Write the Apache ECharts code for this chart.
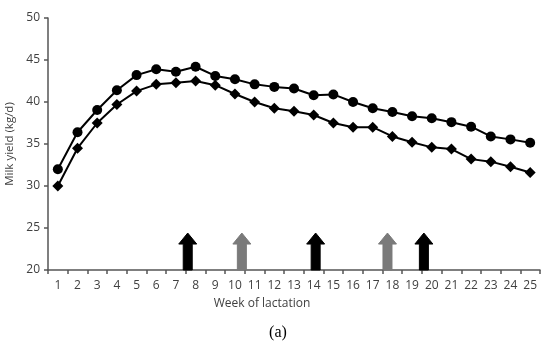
<!DOCTYPE html>
<html><head><meta charset="utf-8">
<script src="https://cdn.jsdelivr.net/npm/echarts@6/dist/echarts.min.js"></script>
<style>html,body{margin:0;padding:0;background:#fff}#c{width:550px;height:350px}</style>
</head><body><div id="c"></div>
<script>
const weeks = ['1','2','3','4','5','6','7','8','9','10','11','12','13','14','15','16','17','18','19','20','21','22','23','24','25'];
const upperSeries = [32.0,36.4,39.05,41.4,43.2,43.9,43.6,44.2,43.1,42.7,42.1,41.8,41.6,40.8,40.9,40.0,39.25,38.8,38.3,38.06,37.6,37.06,35.9,35.55,35.15];
const lowerSeries = [30.0,34.5,37.5,39.7,41.3,42.1,42.3,42.5,42.0,40.95,40.0,39.25,38.9,38.45,37.5,37.0,37.0,35.9,35.2,34.6,34.4,33.2,32.9,32.3,31.6];
const arrowWeeks = [7.6,10.35,14.1,17.75,19.6];
const arrowTop = [24.4,24.4,24.4,24.4,24.4];
const arrowKind = ['black','gray','black','gray','black'];
const yTicks = [20,25,30,35,40,45,50];

const chart = echarts.init(document.getElementById('c'));
const axisCol = '#555';
const labCol = '#404040';
chart.setOption({
  animation:false,
  grid:{left:48,right:10,top:18,bottom:80,containLabel:false,outerBoundsMode:'none'},
  xAxis:[{
    type:'category', data:weeks, boundaryGap:true,
    axisLine:{lineStyle:{color:axisCol,width:1.5}},
    axisTick:{show:true,alignWithLabel:false,length:4,lineStyle:{color:axisCol,width:1.5}},
    axisLabel:{color:labCol,fontSize:12,fontFamily:'Open Sans',margin:10},
    splitLine:{show:false}
  },{
    type:'value', min:0.5, max:25.5, show:false
  }],
  yAxis:{
    type:'value', min:20, max:50, interval:5,
    name:'Milk yield (kg/d)', nameLocation:'middle', nameGap:28, nameRotate:90,
    nameTextStyle:{color:labCol,fontSize:11.5,fontFamily:'Open Sans'},
    axisLine:{show:true,lineStyle:{color:axisCol,width:1.5}},
    axisTick:{show:true,length:4,lineStyle:{color:axisCol,width:1.5}},
    axisLabel:{color:labCol,fontSize:12,fontFamily:'Open Sans',margin:8,
      formatter:v=>yTicks.includes(v)?String(v):''},
    splitLine:{show:false}
  },
  series:[
    {type:'line',data:upperSeries,symbol:'circle',symbolSize:10,
     lineStyle:{color:'#000',width:2},itemStyle:{color:'#000'}},
    {type:'line',data:lowerSeries,symbol:'diamond',symbolSize:11,
     lineStyle:{color:'#000',width:2},itemStyle:{color:'#000'}},
    {type:'custom', xAxisIndex:1,
     data:arrowWeeks.map((w,i)=>[w,arrowTop[i],i]),
     renderItem:function(params,api){
       const x=api.value(0), top=api.value(1), k=api.value(2);
       const b=api.coord([x,20]); const t=api.coord([x,top]);
       const cx=b[0], by=b[1], ty=t[1];
       const sw=4.5, hw=9, hh=11;
       const pts=[[cx-sw,by],[cx-sw,ty+hh],[cx-hw,ty+hh],[cx,ty],[cx+hw,ty+hh],[cx+sw,ty+hh],[cx+sw,by]];
       const col = arrowKind[k]==='black' ? '#000' : '#7a7a7a';
       return {type:'polygon',shape:{points:pts},style:{fill:col,stroke:col,lineWidth:1}};
     }}
  ],
  graphic:[
    {type:'text',x:262,y:304,style:{text:'Week of lactation',font:'12px "Open Sans"',fill:labCol,align:'center',verticalAlign:'middle'}},
    {type:'text',x:278,y:333,style:{text:'(a)',font:'16px "Liberation Serif"',fill:'#000',align:'center',verticalAlign:'middle'}}
  ]
});
</script></body></html>
